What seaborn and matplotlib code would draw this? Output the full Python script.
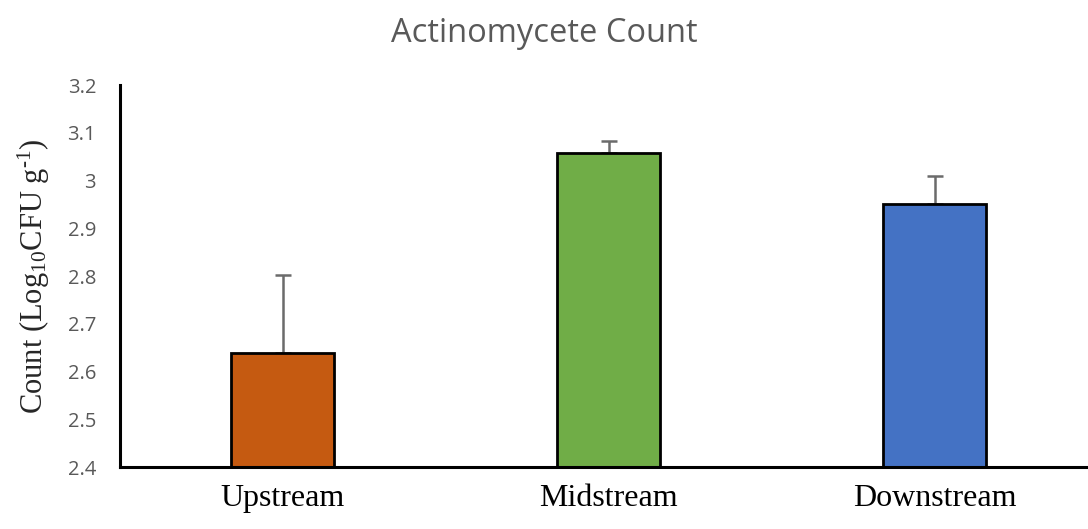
import pandas as pd
import seaborn as sns
import matplotlib.pyplot as plt

# data
sites = ['Upstream', 'Midstream', 'Downstream']
counts = [2.64, 3.057, 2.951]
errors = [0.162, 0.027, 0.058]
colors = ['#C55A11', '#70AD47', '#4472C4']
yticks = [2.4, 2.5, 2.6, 2.7, 2.8, 2.9, 3.0, 3.1, 3.2]
ytick_labels = ['2.4', '2.5', '2.6', '2.7', '2.8', '2.9', '3', '3.1', '3.2']

df = pd.DataFrame({'site': sites, 'count': counts})

sns.set_style('white')
plt.rcParams['font.family'] = ['Open Sans', 'DejaVu Sans']
plt.rcParams['mathtext.fontset'] = 'custom'
plt.rcParams['mathtext.rm'] = 'Liberation Serif'
plt.rcParams['mathtext.it'] = 'Liberation Serif:italic'

fig = plt.figure(figsize=(10.88, 5.29), dpi=100)
ax = fig.add_axes([0.110, 0.117, 0.890, 0.722])

sns.barplot(data=df, x='site', y='count', hue='site', palette=colors,
            saturation=1, width=0.316, edgecolor='black', linewidth=2,
            legend=False, zorder=2, ax=ax)

# upper error bars only
ax.errorbar(range(len(sites)), counts, yerr=[[0] * len(sites), errors],
            fmt='none', ecolor='#6b6b6b', elinewidth=1.8, capsize=6,
            capthick=1.8, zorder=1)

ax.set_ylim(2.4, 3.2)
ax.set_xlim(-0.5, 2.47)
ax.set_yticks(yticks)
ax.set_yticklabels(ytick_labels, fontsize=14.5, color='#595959')
ax.tick_params(axis='y', length=0, pad=17)
ax.tick_params(axis='x', length=0, pad=12)
for lab in ax.get_xticklabels():
    lab.set_fontfamily('Liberation Serif')
    lab.set_fontsize(23)
    lab.set_color('black')

ax.set_xlabel('')
ax.set_ylabel(r'Count (Log$_{\mathrm{10}}$CFU g$^{\text{-1}}$)',
              fontfamily='Liberation Serif', fontsize=22)
ax.yaxis.set_label_coords(-0.07, 0.5)

for side in ['top', 'right']:
    ax.spines[side].set_visible(False)
for side in ['left', 'bottom']:
    ax.spines[side].set_color('black')
    ax.spines[side].set_linewidth(2.2)

fig.suptitle('Actinomycete Count', x=0.5, y=0.937, va='center',
             fontsize=23.5, color='#595959')

fig.savefig('out.png', dpi=100)
